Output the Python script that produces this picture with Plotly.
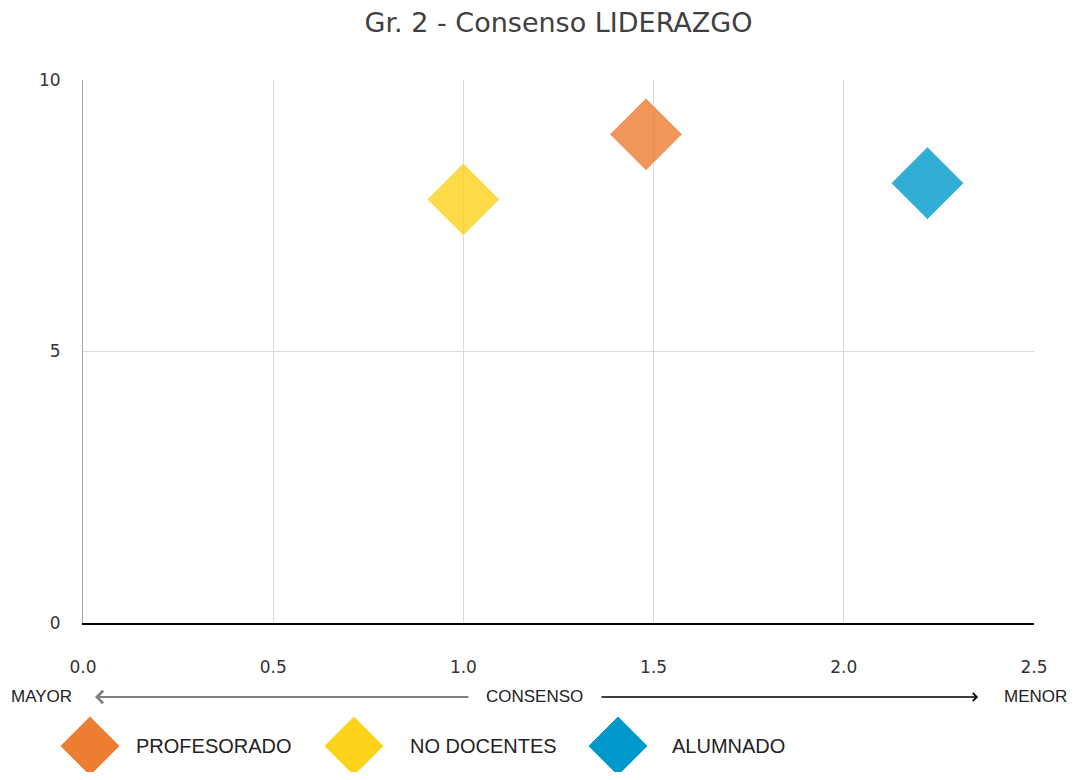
import plotly.graph_objects as go

# %%
grupos = ["PROFESORADO", "NO DOCENTES", "ALUMNADO"]
consenso = [1.48, 1.0, 2.22]
puntuacion = [9.0, 7.8, 8.1]
colores = ["#ED7D31", "#FDD21A", "#0099CC"]

x_ticks = [0, 0.5, 1.0, 1.5, 2.0, 2.5]
y_ticks = [0, 5, 10]

narrow = "Liberation Sans Narrow, Arial Narrow, sans-serif"

fig = go.Figure()

# puntos del grafico
for g, cx, cy, col in zip(grupos, consenso, puntuacion, colores):
    fig.add_trace(go.Scatter(
        x=[cx], y=[cy], mode="markers", name=g, cliponaxis=False,
        marker=dict(symbol="diamond", size=56, color=col, opacity=0.8,
                    line=dict(color="white", width=1)),
        hoverinfo="x+y+name"))

# leyenda hecha a mano (marcadores grandes)
pos_leyenda = list(range(len(grupos)))
fig.add_trace(go.Scatter(
    x=pos_leyenda, y=[0] * len(grupos), xaxis="x2", yaxis="y2",
    mode="markers", cliponaxis=False, hoverinfo="skip",
    marker=dict(symbol="diamond", size=46, color=colores,
                line=dict(color="white", width=1))))
for i, g in zip(pos_leyenda, grupos):
    fig.add_annotation(x=i, y=0, xref="x2", yref="y2", text=g,
                       showarrow=False, xanchor="left", yanchor="middle",
                       xshift=[44, 54, 52][i],
                       font=dict(family=narrow, size=20, color="#222"))

fig.update_layout(
    width=1061, height=764,
    margin=dict(l=75, r=35, t=72, b=0, autoexpand=False),
    plot_bgcolor="white", paper_bgcolor="white",
    showlegend=False,
    title=dict(text="Gr. 2 - Consenso LIDERAZGO", x=0.5, xref="paper",
               xanchor="center", y=0.981, yanchor="middle",
               font=dict(family="DejaVu Sans, Verdana", size=27, color="#404040")),
    font=dict(family="DejaVu Sans, Verdana", size=17, color="#333"),
    xaxis=dict(range=[0, 2.5], tickvals=x_ticks, tickformat=".1f",
               showgrid=True, gridcolor="#d9d9d9", zeroline=False,
               showline=True, linecolor="black", linewidth=1.5,
               ticklabelstandoff=28, anchor="y", automargin=False),
    yaxis=dict(range=[0, 10], tickvals=y_ticks, domain=[0.2153, 1],
               showgrid=True, gridcolor="#d9d9d9", zeroline=False,
               showline=True, linecolor="#a6a6a6", ticklabelstandoff=18,
               automargin=False),
    xaxis2=dict(range=[-0.0265, 3.576], domain=[0, 1], anchor="y2",
                visible=False, fixedrange=True, automargin=False),
    yaxis2=dict(range=[-1, 1], domain=[0, 0.0751], anchor="x2",
                visible=False, fixedrange=True, automargin=False),
)

# eje de consenso
y_flecha = 0.1084
fig.add_annotation(x=0.0315, y=y_flecha, xref="x", yref="paper",
                   ax=1.017, ay=0, axref="x", ayref="pixel", text="",
                   showarrow=True, arrowhead=4, arrowsize=1.2, arrowwidth=2,
                   arrowcolor="#7f7f7f")
fig.add_annotation(x=2.353, y=y_flecha, xref="x", yref="paper",
                   ax=1.359, ay=0, axref="x", ayref="pixel", text="",
                   showarrow=True, arrowhead=4, arrowsize=1.2, arrowwidth=1.3,
                   arrowcolor="black")
for txt, xp in [("MAYOR", -0.044), ("CONSENSO", 0.475), ("MENOR", 1.002)]:
    fig.add_annotation(x=xp, y=y_flecha, xref="paper", yref="paper",
                       text=txt, showarrow=False, xanchor="center",
                       yanchor="middle",
                       font=dict(family=narrow, size=17, color="#222"))

fig.write_html("out.html")
